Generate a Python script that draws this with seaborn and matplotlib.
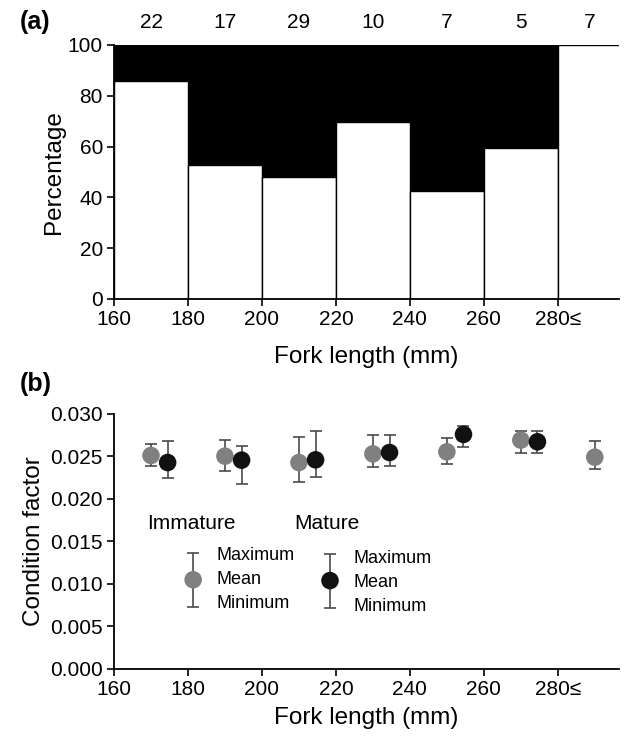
import numpy as np
import pandas as pd
import matplotlib
matplotlib.use("Agg")
import matplotlib.pyplot as plt
import seaborn as sns

# ---------------- data ----------------
bin_edges = [160, 180, 200, 220, 240, 260, 280, 300]
bin_centers = [170, 190, 210, 230, 250, 270, 290]
sample_n = [22, 17, 29, 10, 7, 5, 7]
immature_pct = [86.0, 52.7, 48.1, 69.6, 42.5, 59.6, 100.0]
mature_pct = [14.0, 47.3, 51.9, 30.4, 57.5, 40.4, 0.0]
tick_values = [160, 180, 200, 220, 240, 260, 280]
tick_labels = ["160", "180", "200", "220", "240", "260", "280\u2264"]

imm_x = [170, 190, 210, 230, 250, 270, 290]
imm_mean = [0.02512, 0.02504, 0.02429, 0.02531, 0.02555, 0.02693, 0.02492]
imm_max = [0.02642, 0.02697, 0.02724, 0.02752, 0.02717, 0.02795, 0.02677]
imm_min = [0.02394, 0.02331, 0.02197, 0.02378, 0.02417, 0.02543, 0.02350]

mat_x = [174.5, 194.5, 214.5, 234.5, 254.5, 274.5]
mat_mean = [0.02429, 0.02457, 0.02461, 0.02547, 0.02760, 0.02673]
mat_max = [0.02677, 0.02626, 0.02795, 0.02752, 0.02858, 0.02803]
mat_min = [0.02252, 0.02173, 0.02260, 0.02386, 0.02614, 0.02543]

# ---------------- style ----------------
sns.set_theme(style="white")
plt.rcParams["font.family"] = ["Liberation Sans", "DejaVu Sans"]
plt.rcParams["xtick.bottom"] = True
plt.rcParams["ytick.left"] = True
plt.rcParams["text.color"] = "black"
plt.rcParams["axes.labelcolor"] = "black"
plt.rcParams["xtick.color"] = "black"
plt.rcParams["ytick.color"] = "black"

TICK_FS = 15
LABEL_FS = 17.5

fig = plt.figure(figsize=(6.31, 7.41), dpi=100)
ax1 = fig.add_axes([0.1807, 0.5965, 0.800, 0.3428])
ax2 = fig.add_axes([0.1807, 0.0972, 0.800, 0.3441])

# ---------------- panel (a) ----------------
df_a = pd.DataFrame({"x": bin_centers, "imm": immature_pct,
                     "tot": [100.0 if m > 0 else 0.0 for m in mature_pct]})
sns.histplot(data=df_a, x="x", weights="tot", bins=bin_edges, color="black",
             edgecolor="black", linewidth=1.0, alpha=1, ax=ax1)
sns.histplot(data=df_a, x="x", weights="imm", bins=bin_edges, color="white",
             edgecolor="black", linewidth=1.0, alpha=1, ax=ax1)

ax1.set_xlim(160, 296.5)
ax1.set_ylim(0, 100)
ax1.set_yticks([0, 20, 40, 60, 80, 100])
ax1.set_xticks(tick_values)
ax1.set_xticklabels(tick_labels)
ax1.set_xlabel("Fork length (mm)", fontsize=LABEL_FS, labelpad=12)
ax1.set_ylabel("Percentage", fontsize=LABEL_FS, labelpad=2)
ax1.tick_params(axis="both", labelsize=TICK_FS, length=5, width=1.2, direction="out", pad=3)
for s in ["top", "right"]:
    ax1.spines[s].set_visible(False)
for s in ["left", "bottom"]:
    ax1.spines[s].set_color("black")
    ax1.spines[s].set_linewidth(1.3)
for xc, n in zip(bin_centers, sample_n):
    ax1.text(xc if xc < 285 else 288.5, 105, str(n), ha="center", va="bottom", fontsize=TICK_FS,
             clip_on=False)
fig.text(0.032, 0.970, "(a)", fontsize=18, fontweight="bold", ha="left", va="center")

# ---------------- panel (b) ----------------
err_kw = dict(fmt="none", ecolor="#4a4a4a", elinewidth=1.2, capsize=4.5, capthick=1.2, zorder=2)
ax2.errorbar(imm_x, imm_mean,
             yerr=[np.array(imm_mean) - np.array(imm_min), np.array(imm_max) - np.array(imm_mean)], **err_kw)
ax2.errorbar(mat_x, mat_mean,
             yerr=[np.array(mat_mean) - np.array(mat_min), np.array(mat_max) - np.array(mat_mean)], **err_kw)
sns.scatterplot(x=imm_x, y=imm_mean, color="#808080", s=160, edgecolor="none", zorder=3, ax=ax2)
sns.scatterplot(x=mat_x, y=mat_mean, color="#111111", s=160, edgecolor="none", zorder=3, ax=ax2)

# legend-like key drawn in data coordinates
leg_imm_x, leg_mat_x = 181.4, 218.4
leg_mean, leg_max, leg_min = 0.0105, 0.01368, 0.00733
ax2.errorbar([leg_imm_x], [leg_mean], yerr=[[leg_mean - leg_min], [leg_max - leg_mean]], **err_kw)
ax2.errorbar([leg_mat_x], [leg_mean - 0.0001], yerr=[[leg_mean - leg_min], [leg_max - leg_mean]], **err_kw)
sns.scatterplot(x=[leg_imm_x], y=[leg_mean], color="#808080", s=160, edgecolor="none", zorder=3, ax=ax2)
sns.scatterplot(x=[leg_mat_x], y=[leg_mean - 0.0001], color="#111111", s=160, edgecolor="none", zorder=3, ax=ax2)
ax2.text(168.9, 0.0171, "Immature", fontsize=15, ha="left", va="center")
ax2.text(208.6, 0.0171, "Mature", fontsize=15, ha="left", va="center")
for dx, base in [(leg_imm_x + 6.3, 0.0), (leg_mat_x + 6.3, -0.0003)]:
    ax2.text(dx, 0.0133 + base, "Maximum", fontsize=13, ha="left", va="center")
    ax2.text(dx, 0.0105 + base, "Mean", fontsize=13, ha="left", va="center")
    ax2.text(dx, 0.0077 + base, "Minimum", fontsize=13, ha="left", va="center")

ax2.set_xlim(160, 296.5)
ax2.set_ylim(0, 0.030)
ax2.set_yticks([0.000, 0.005, 0.010, 0.015, 0.020, 0.025, 0.030])
ax2.set_yticklabels(["0.000", "0.005", "0.010", "0.015", "0.020", "0.025", "0.030"])
ax2.set_xticks(tick_values)
ax2.set_xticklabels(tick_labels)
ax2.set_xlabel("Fork length (mm)", fontsize=LABEL_FS, labelpad=6)
ax2.set_ylabel("Condition factor", fontsize=LABEL_FS, labelpad=4)
ax2.tick_params(axis="both", labelsize=TICK_FS, length=5, width=1.2, direction="out", pad=3)
for s in ["top", "right"]:
    ax2.spines[s].set_visible(False)
for s in ["left", "bottom"]:
    ax2.spines[s].set_color("black")
    ax2.spines[s].set_linewidth(1.3)
fig.text(0.032, 0.482, "(b)", fontsize=18, fontweight="bold", ha="left", va="center")

fig.savefig("out.png", dpi=100)
